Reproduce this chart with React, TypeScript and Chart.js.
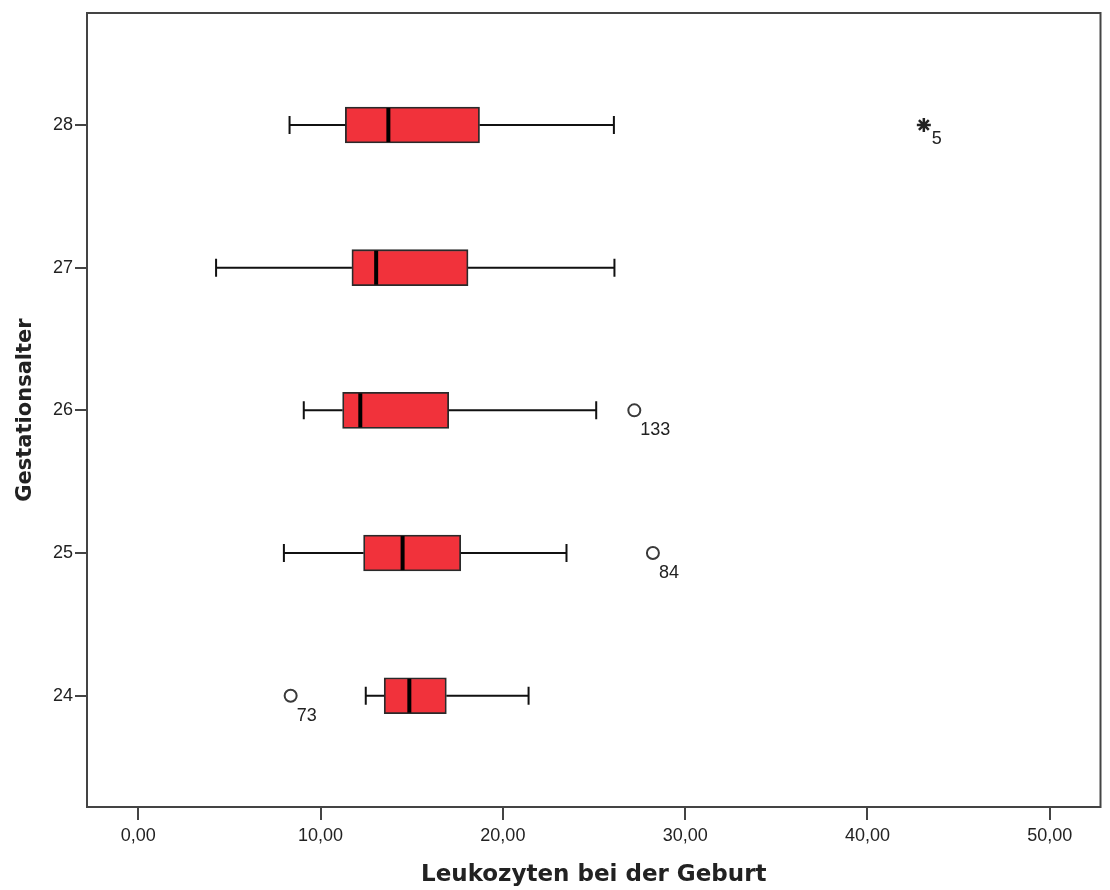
import { useEffect, useRef } from 'react';
import { Chart, registerables } from 'chart.js';

Chart.register(...registerables);

// ---- data ----
const categories = [24, 25, 26, 27, 28];
const whiskerLow = [12.48, 7.99, 9.08, 4.27, 8.3];
const q1 = [13.49, 12.36, 11.21, 11.72, 11.36];
const median = [14.87, 14.5, 12.18, 13.05, 13.72];
const q3 = [16.9, 17.69, 17.03, 18.09, 18.72];
const whiskerHigh = [21.41, 23.49, 25.12, 26.12, 26.09];

const outlierCat = [24, 25, 26];
const outlierVal = [8.36, 28.23, 27.21];
const outlierLabel = ['73', '84', '133'];

const extremeCat = [28];
const extremeVal = [43.09];
const extremeLabel = ['5'];

const xTicks = [0, 10, 20, 30, 40, 50];
const yTicks = [24, 25, 26, 27, 28];

const xTitle = 'Leukozyten bei der Geburt';
const yTitle = 'Gestationsalter';

const BOX_FILL = '#f1323b';
const FRAME = '#444444';
const TEXT = '#222222';
const TICK_FONT = { family: '"Liberation Sans", Arial, sans-serif', size: 18 };

export default function App() {
  const ref = useRef<HTMLCanvasElement>(null);

  useEffect(() => {
    const canvas = ref.current;
    if (!canvas) return;

    const frame = {
      id: 'frame',
      afterDraw(chart: any) {
        const { ctx, chartArea: a } = chart;
        ctx.save();
        ctx.strokeStyle = FRAME;
        ctx.lineWidth = 2;
        ctx.strokeRect(a.left, a.top, a.right - a.left, a.bottom - a.top);
        ctx.restore();
      },
    };

    const boxParts = {
      id: 'boxParts',
      afterDatasetsDraw(chart: any) {
        const { ctx } = chart;
        const x = chart.scales.x;
        const y = chart.scales.y;
        ctx.save();
        ctx.lineCap = 'butt';
        categories.forEach((c, i) => {
          const cy = y.getPixelForValue(c);
          const pl = x.getPixelForValue(whiskerLow[i]);
          const p1 = x.getPixelForValue(q1[i]);
          const p3 = x.getPixelForValue(q3[i]);
          const ph = x.getPixelForValue(whiskerHigh[i]);
          const pm = x.getPixelForValue(median[i]);
          ctx.strokeStyle = '#111111';
          ctx.lineWidth = 2;
          ctx.beginPath();
          ctx.moveTo(pl, cy);
          ctx.lineTo(p1, cy);
          ctx.moveTo(p3, cy);
          ctx.lineTo(ph, cy);
          ctx.moveTo(pl, cy - 9);
          ctx.lineTo(pl, cy + 9);
          ctx.moveTo(ph, cy - 9);
          ctx.lineTo(ph, cy + 9);
          ctx.stroke();
          ctx.strokeStyle = '#000000';
          ctx.lineWidth = 4;
          ctx.beginPath();
          ctx.moveTo(pm, cy - 17);
          ctx.lineTo(pm, cy + 17);
          ctx.stroke();
        });

        // outlier labels
        ctx.fillStyle = TEXT;
        ctx.font = `${TICK_FONT.size}px ${TICK_FONT.family}`;
        ctx.textAlign = 'left';
        ctx.textBaseline = 'middle';
        const m1 = chart.getDatasetMeta(1);
        m1.data.forEach((pt: any, i: number) => {
          ctx.fillText(outlierLabel[i], pt.x + 6, pt.y + 20);
        });
        const m2 = chart.getDatasetMeta(2);
        m2.data.forEach((pt: any, i: number) => {
          ctx.fillText(extremeLabel[i], pt.x + 8, pt.y + 14);
        });
        ctx.restore();
      },
    };

    const chart = new Chart(canvas, {
      type: 'bar',
      data: {
        datasets: [
          {
            type: 'bar',
            indexAxis: 'y',
            data: categories.map((c, i) => ({ y: c, x: [q1[i], q3[i]] })) as any,
            backgroundColor: BOX_FILL,
            borderColor: '#2a2a2a',
            borderWidth: 1.8,
            borderSkipped: false,
            barThickness: 36,
          } as any,
          {
            type: 'scatter',
            data: outlierCat.map((c, i) => ({ x: outlierVal[i], y: c })),
            pointStyle: 'circle',
            pointRadius: 6,
            pointBorderWidth: 2,
            pointBorderColor: '#3a3a3a',
            pointBackgroundColor: '#ffffff',
          } as any,
          {
            type: 'scatter',
            data: extremeCat.map((c, i) => ({ x: extremeVal[i], y: c })),
            pointStyle: 'star',
            pointRadius: 7,
            pointBorderWidth: 2.5,
            pointBorderColor: '#222222',
            pointBackgroundColor: '#222222',
          } as any,
        ],
      },
      options: {
        animation: false,
        responsive: false,
        maintainAspectRatio: false,
        layout: { padding: { left: 0, top: 13, right: 4, bottom: 0 } },
        plugins: {
          legend: { display: false },
          tooltip: { enabled: false },
        },
        scales: {
          x: {
            type: 'linear',
            position: 'bottom',
            offset: false,
            min: -2.81,
            max: 52.78,
            afterBuildTicks: (s: any) => {
              s.ticks = xTicks.map((v) => ({ value: v }));
            },
            afterFit: (s: any) => {
              s.height = 83;
            },
            ticks: {
              font: TICK_FONT,
              color: TEXT,
              padding: 5,
              maxRotation: 0,
              autoSkip: false,
              callback: (v: any) => Number(v).toFixed(2).replace('.', ','),
            },
            grid: {
              display: true,
              offset: false,
              drawOnChartArea: false,
              drawTicks: true,
              tickLength: 13,
              color: FRAME,
              lineWidth: 2,
            },
            border: { display: false },
            title: {
              display: true,
              text: xTitle,
              color: TEXT,
              font: { family: '"DejaVu Sans", Verdana, sans-serif', size: 23, weight: 'bold' },
              padding: { top: 0, bottom: 1 },
            },
          },
          y: {
            type: 'linear',
            position: 'left',
            offset: false,
            min: 23.22,
            max: 28.785,
            afterBuildTicks: (s: any) => {
              s.ticks = yTicks.map((v) => ({ value: v }));
            },
            afterFit: (s: any) => {
              s.width = 87;
            },
            ticks: {
              font: TICK_FONT,
              color: TEXT,
              padding: 2,
              autoSkip: false,
              callback: (v: any) => String(v),
            },
            grid: {
              display: true,
              offset: false,
              drawOnChartArea: false,
              drawTicks: true,
              tickLength: 12,
              color: FRAME,
              lineWidth: 2,
            },
            border: { display: false },
            title: {
              display: true,
              text: yTitle,
              color: TEXT,
              font: { family: '"DejaVu Sans", Verdana, sans-serif', size: 21, weight: 'bold' },
              padding: { top: 13, bottom: 0 },
            },
          },
        },
      } as any,
      plugins: [frame, boxParts],
    });

    return () => chart.destroy();
  }, []);

  return (
    <div style={{ position: 'absolute', left: 0, top: 0, width: 1110, height: 890, background: '#ffffff' }}>
      <canvas ref={ref} width={1110} height={890} style={{ display: 'block' }} />
    </div>
  );
}
